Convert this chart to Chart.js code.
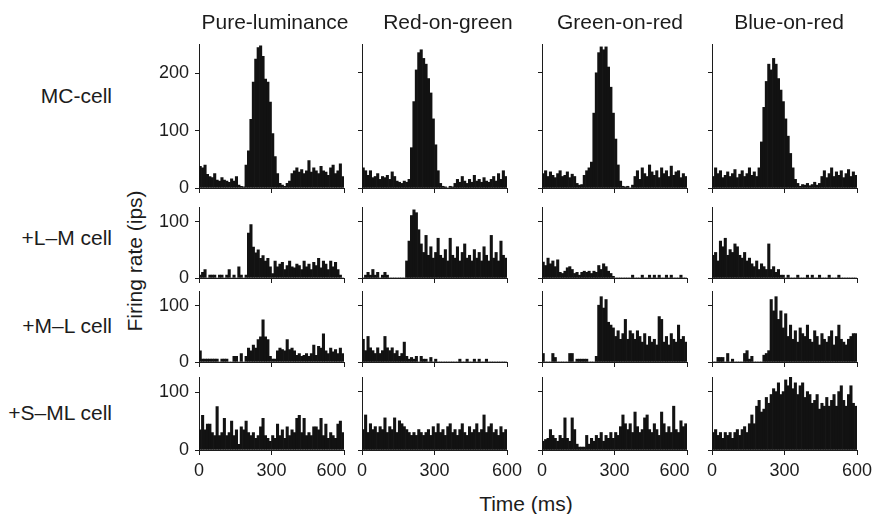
<!DOCTYPE html>
<html>
<head>
<meta charset="utf-8">
<script src="https://cdn.jsdelivr.net/npm/chart.js@4.4.1/dist/chart.umd.min.js"></script>
<style>
  body { margin: 0; background: #fff; }
  #fig { position: relative; width: 877px; height: 514px; overflow: hidden;
         font-family: "Liberation Sans", Arial, sans-serif; color: #1c1c1c; background: #fff; }
  #fig canvas { position: absolute; }
  .lbl { position: absolute; font-size: 21px; line-height: 20px; white-space: nowrap; }
</style>
</head>
<body>
<div id="fig"></div>
<script>
/* ---- data: firing rate (ips) per 10 ms bin, 0-600 ms ---- */
const BIN_MS = 10;
const TIME_TICKS = [0, 300, 600];
const STIMULI = ["Pure-luminance", "Red-on-green", "Green-on-red", "Blue-on-red"];
const CELLS = ["MC-cell", "+L\u2013M cell", "+M\u2013L cell", "+S\u2013ML cell"];
const RATE_MAX = [250, 125, 125, 125];
const RATE_TICKS = [[0, 100, 200], [0, 100], [0, 100], [0, 100]];

// MC-cell
const mcLum = [38,35,40,24,20,18,25,14,12,18, 14,12,10,16,12,20,5,3,2,40,
  65,120,185,225,245,248,230,190,185,150, 95,55,25,8,5,3,8,12,25,30,
  35,28,32,25,30,48,28,35,30,25, 38,30,28,22,35,40,25,30,42,20];
const mcRG = [35,30,22,30,18,20,25,15,20,18, 22,15,28,20,12,10,8,12,10,15,
  70,150,205,235,240,225,215,190,165,120, 75,30,8,3,2,0,3,2,8,15,
  10,20,12,8,15,10,22,12,15,10, 18,12,10,15,20,12,25,15,30,20];
const mcGR = [25,30,20,28,22,18,25,30,20,22, 28,18,24,20,8,5,6,22,30,35,
  45,130,200,235,245,240,245,210,175,130, 85,40,12,3,2,3,0,5,20,30,
  15,35,25,20,40,28,22,30,18,35, 25,30,20,38,22,28,30,18,25,20];
const mcBR = [20,35,25,30,18,22,28,20,25,32, 18,24,30,20,25,35,22,28,20,35,
  80,140,185,215,205,225,215,190,170,150, 120,90,60,35,15,8,3,6,5,8,
  4,6,10,5,8,20,30,18,25,35, 20,28,22,30,18,25,32,20,28,22];

// +L-M cell
const lmLum = [5,10,15,0,5,5,5,0,5,5, 0,5,15,0,5,0,20,5,0,5,
  80,95,55,45,50,35,40,30,35,20, 8,30,20,25,28,15,22,30,20,18,
  25,22,15,30,20,25,15,28,22,35, 18,30,25,15,30,20,28,15,5,0];
const lmRG = [0,5,10,5,15,5,10,0,5,10, 5,0,0,0,0,0,0,0,30,65,
  110,120,115,85,60,45,75,40,55,35, 45,70,40,35,50,30,70,40,35,55,
  30,45,60,35,40,30,50,35,45,30, 55,40,30,75,35,45,30,65,40,35];
const lmGR = [28,22,35,25,30,20,32,10,8,12, 18,20,15,8,10,5,10,12,10,12,
  8,12,10,22,15,25,20,12,8,3, 0,0,0,0,0,0,0,5,0,0,
  0,5,0,0,5,0,5,0,5,0, 0,5,0,5,0,0,0,5,0,0];
const lmBR = [40,45,30,65,55,70,40,50,45,60, 55,40,35,45,30,35,25,20,30,15,
  25,20,15,60,15,20,10,15,5,5, 0,5,0,0,0,5,0,0,0,5,
  0,5,0,0,5,0,0,0,5,0, 0,0,5,0,0,0,0,0,0,0];

// +M-L cell
const mlLum = [20,5,5,5,5,5,5,5,0,5, 5,5,0,0,10,10,0,15,0,10,
  25,20,30,25,40,45,75,45,40,10, 5,5,20,25,22,20,40,22,25,20,
  12,15,10,12,15,10,15,30,12,28, 25,50,20,15,25,18,22,15,25,15];
const mlRG = [40,20,45,25,20,15,25,15,20,45, 25,20,25,15,20,10,15,35,10,5,
  8,5,10,0,10,5,5,0,8,0, 5,0,0,0,0,0,0,0,0,0,
  5,0,0,5,0,0,5,0,5,0, 0,5,0,0,0,0,0,0,0,0];
const mlGR = [15,0,0,0,15,8,0,0,0,0, 0,15,15,0,5,5,5,5,5,0,
  0,0,10,100,115,95,110,70,65,60, 45,55,40,50,75,40,55,50,40,55,
  45,35,50,30,45,35,40,30,80,75, 35,45,30,50,40,35,65,40,45,35];
const mlBR = [0,0,8,8,8,0,15,0,5,0, 0,0,0,15,20,5,10,0,0,0,
  0,12,15,20,110,90,115,75,90,60, 85,45,65,40,55,35,60,50,45,65,
  40,35,55,45,30,50,40,35,45,55, 30,45,65,40,35,30,40,45,50,50];

// +S-ML cell
const smlLum = [35,60,35,45,45,30,25,75,25,30, 55,25,30,50,25,35,10,40,35,50,
  30,25,30,20,25,40,55,25,20,15, 25,20,45,25,35,20,40,25,35,30,
  55,60,30,55,25,30,25,40,40,35, 55,25,45,20,30,25,20,45,50,30];
const smlRG = [35,60,30,45,35,40,30,40,35,55, 30,40,35,55,30,50,45,40,35,30,
  25,30,25,35,30,25,30,35,25,40, 30,45,30,35,25,40,45,30,35,25,
  35,45,30,25,40,30,35,45,30,35, 60,30,40,45,30,35,25,40,30,35];
const smlGR = [15,18,20,35,25,20,15,25,20,55, 20,15,55,35,10,5,5,5,25,10,
  20,15,25,20,30,15,25,20,30,20, 30,25,40,60,45,35,45,30,65,40,
  30,35,55,60,35,30,45,35,25,65, 45,30,40,30,75,35,30,50,40,45];
const smlBR = [30,35,25,30,20,30,25,30,20,30, 35,25,35,40,30,45,60,45,75,85,
  65,70,90,80,95,105,100,115,95,100, 120,110,125,105,115,95,110,115,90,100,
  95,80,85,95,70,80,75,90,75,85, 95,75,100,110,85,75,95,110,80,75];

const PANELS = [
  [mcLum, mcRG, mcGR, mcBR],
  [lmLum, lmRG, lmGR, lmBR],
  [mlLum, mlRG, mlGR, mlBR],
  [smlLum, smlRG, smlGR, smlBR],
];

/* ---- layout (page pixels) ---- */
const COL_LEFT = [199, 362, 542, 712];
const PLOT_W = 145;
const ROW_TOP = [44, 207, 291, 377];
const ROW_H = [144, 71, 71, 73];
const PAD_L = 50, PAD_T = 16, PAD_R = 40, AXIS_B = 34;
const INK = "#1c1c1c";
const FONT = "'Liberation Sans', Arial, sans-serif";

const fig = document.getElementById("fig");

function addText(text, x, y, opts) {
  const d = document.createElement("div");
  d.className = "lbl";
  d.textContent = text;
  Object.assign(d.style, opts || {});
  d.style.left = x + "px";
  d.style.top = y + "px";
  fig.appendChild(d);
  return d;
}

function drawPanel(r, c) {
  const values = PANELS[r][c];
  const w = PAD_L + PLOT_W + PAD_R;
  const h = PAD_T + ROW_H[r] + AXIS_B;
  const cv = document.createElement("canvas");
  cv.width = w; cv.height = h;
  cv.style.width = w + "px"; cv.style.height = h + "px";
  cv.style.left = (COL_LEFT[c] - PAD_L) + "px";
  cv.style.top = (ROW_TOP[r] - PAD_T) + "px";
  fig.appendChild(cv);

  const bottomRow = r === PANELS.length - 1;
  // first and third columns push their "600" left so it clears the next panel
  const shift600 = c === 0 || c === 2;

  new Chart(cv, {
    type: "bar",
    data: {
      datasets: [{
        data: values.map((v, i) => ({ x: i * BIN_MS + BIN_MS / 2, y: v })),
        backgroundColor: "#121212",
        borderWidth: 0,
        barPercentage: 1,
        categoryPercentage: 1,
      }],
    },
    options: {
      responsive: false,
      animation: false,
      devicePixelRatio: 1,
      events: [],
      layout: { padding: { left: 0, top: PAD_T, right: PAD_R, bottom: 0 } },
      plugins: { legend: { display: false }, tooltip: { enabled: false } },
      scales: {
        x: {
          type: "linear",
          min: 0, max: 600,
          offset: false,
          afterBuildTicks: (s) => { s.ticks = TIME_TICKS.map((v) => ({ value: v })); },
          afterFit: (s) => { s.height = AXIS_B; },
          grid: { display: true, offset: false, drawOnChartArea: false, drawTicks: true,
                  tickLength: 5, color: INK, lineWidth: 1 },
          border: { display: true, color: INK, width: 1 },
          ticks: {
            display: bottomRow, autoSkip: false, maxRotation: 0, minRotation: 0,
            padding: 5, color: INK, font: { family: FONT, size: 18 },
            callback: (v) => (v === 600 && shift600 ? "600     " : String(v)),
          },
        },
        y: {
          min: 0, max: RATE_MAX[r],
          afterBuildTicks: (s) => { s.ticks = RATE_TICKS[r].map((v) => ({ value: v })); },
          afterFit: (s) => { s.width = PAD_L; },
          grid: { display: true, drawOnChartArea: false, drawTicks: true,
                  tickLength: 4, color: INK, lineWidth: 1 },
          border: { display: true, color: INK, width: 1 },
          ticks: { display: c === 0, padding: 6, color: INK, font: { family: FONT, size: 18 } },
        },
      },
    },
  });
}

for (let r = 0; r < PANELS.length; r++) {
  for (let c = 0; c < PANELS[r].length; c++) drawPanel(r, c);
}

/* ---- titles and labels ---- */
const TITLE_X = [275, 448, 620, 789];
STIMULI.forEach((s, i) => addText(s, TITLE_X[i] - 100, 12, { width: "200px", textAlign: "center" }));

const LABEL_Y = [86, 228, 316, 403];
CELLS.forEach((s, i) => addText(s, 0, LABEL_Y[i], { width: "112px", textAlign: "right" }));

addText("Firing rate (ips)", 135 - 100, 261 - 10,
  { width: "200px", textAlign: "center", transform: "rotate(-90deg)" });
addText("Time (ms)", 526 - 80, 494, { width: "160px", textAlign: "center" });
</script>
</body>
</html>
